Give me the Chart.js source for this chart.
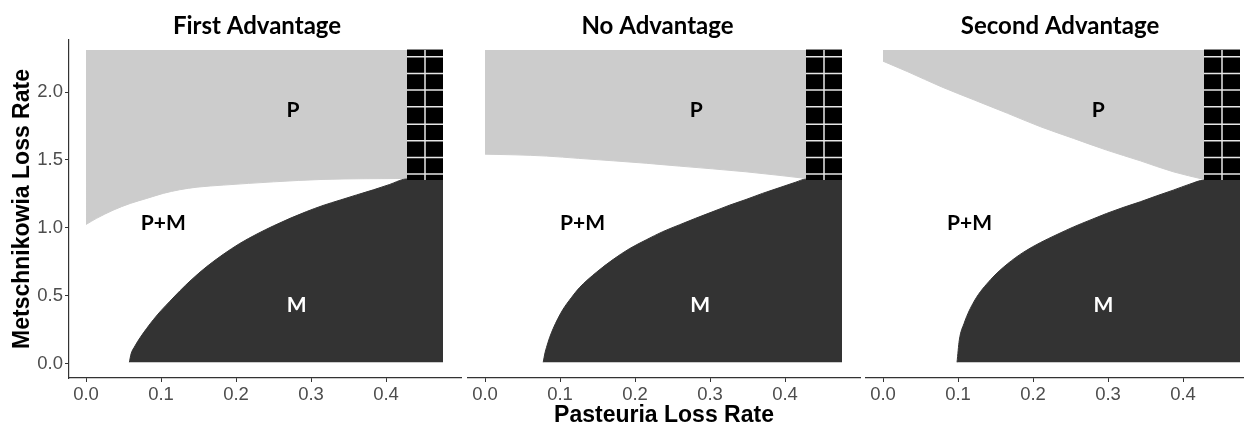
<!DOCTYPE html>
<html>
<head>
<meta charset="utf-8">
<script src="https://cdn.jsdelivr.net/npm/chart.js@4.4.1/dist/chart.umd.min.js"></script>
<style>
html, body { margin: 0; padding: 0; background: #ffffff; }
body { width: 1244px; height: 424px; overflow: hidden; position: relative; }
canvas { position: absolute; top: 0; }
</style>
</head>
<body>
<canvas id="p1" width="465" height="424" style="left:0px"></canvas>
<canvas id="p2" width="400" height="424" style="left:465px"></canvas>
<canvas id="p3" width="400" height="424" style="left:865px"></canvas>
<script>
// ---------------- DATA ----------------
const panelTitles = ['First Advantage', 'No Advantage', 'Second Advantage'];
const xAxisTitle = 'Pasteuria Loss Rate';
const yAxisTitle = 'Metschnikowia Loss Rate';
const xTickValues = [0, 0.1, 0.2, 0.3, 0.4];
const yTickValues = [0, 0.5, 1.0, 1.5, 2.0];

// extent of the simulated grid of loss rates
const gridXMax = 0.476;
const gridYMin = 0.01;
const gridYMax = 2.31;

// block where both go extinct (black, hatched)
const blockXMin = 0.428;
const blockYMin = 1.352;
const hatchX = [0.452];
const hatchY = [1.396, 1.519, 1.642, 1.764, 1.892, 2.015, 2.138, 2.261];

// region labels
const regionLabels = ['P', 'P+M', 'M'];
const labelY = [1.82, 0.985, 0.38];

// First Advantage: lower edge of "P" (light grey) region
const firstPEdgeX = [0, 0.014, 0.036, 0.059, 0.081, 0.103, 0.125, 0.148, 0.183, 0.250, 0.316, 0.428];
const firstPEdgeY = [1.025, 1.070, 1.130, 1.180, 1.217, 1.254, 1.281, 1.300, 1.315, 1.339, 1.357, 1.364];
// First Advantage: upper edge of "M" (dark) region
const firstMEdgeX = [0.0578, 0.060, 0.0653, 0.072, 0.081, 0.090, 0.100, 0.112, 0.125, 0.140, 0.161, 0.183, 0.205, 0.228, 0.250, 0.272, 0.294, 0.316, 0.339, 0.361, 0.383, 0.405, 0.423, 0.428, 0.476];
const firstMEdgeY = [0.010, 0.070, 0.130, 0.190, 0.260, 0.325, 0.390, 0.460, 0.535, 0.615, 0.715, 0.805, 0.885, 0.955, 1.015, 1.070, 1.120, 1.165, 1.205, 1.243, 1.280, 1.320, 1.357, 1.360, 1.360];
const firstLabelX = [0.276, 0.103, 0.281];

// No Advantage
const noPEdgeX = [0, 0.040, 0.082, 0.125, 0.171, 0.215, 0.259, 0.303, 0.348, 0.392, 0.428];
const noPEdgeY = [1.543, 1.538, 1.529, 1.512, 1.494, 1.476, 1.455, 1.435, 1.413, 1.387, 1.364];
const noMEdgeX = [0.0776, 0.080, 0.082, 0.086, 0.091, 0.097, 0.104, 0.115, 0.126, 0.149, 0.171, 0.193, 0.215, 0.237, 0.259, 0.281, 0.304, 0.326, 0.348, 0.370, 0.392, 0.414, 0.428, 0.476];
const noMEdgeY = [0.010, 0.080, 0.120, 0.190, 0.260, 0.330, 0.400, 0.485, 0.560, 0.675, 0.768, 0.848, 0.912, 0.972, 1.022, 1.071, 1.120, 1.167, 1.209, 1.254, 1.295, 1.336, 1.359, 1.359];
const noLabelX = [0.2815, 0.130, 0.287];

// Second Advantage
const secondPEdgeX = [0, 0.033, 0.0775, 0.1216, 0.166, 0.210, 0.254, 0.298, 0.343, 0.387, 0.428];
const secondPEdgeY = [2.228, 2.150, 2.040, 1.942, 1.844, 1.745, 1.659, 1.573, 1.494, 1.413, 1.357];
const secondMEdgeX = [0.0987, 0.1017, 0.108, 0.1216, 0.1437, 0.166, 0.188, 0.210, 0.232, 0.254, 0.276, 0.298, 0.320, 0.343, 0.365, 0.387, 0.409, 0.428, 0.476];
const secondMEdgeY = [0.010, 0.172, 0.295, 0.460, 0.620, 0.735, 0.823, 0.892, 0.951, 1.007, 1.057, 1.106, 1.150, 1.192, 1.236, 1.278, 1.322, 1.352, 1.355];
const secondLabelX = [0.287, 0.1154, 0.294];

// ---------------- STYLE ----------------
const COL_P = '#cccccc';
const COL_M = '#333333';
const COL_BLOCK = '#000000';
const COL_HATCH = '#e6e6e6';
const COL_AXIS = '#333333';
const COL_TICKTXT = '#4d4d4d';
const TICK_FONT = { family: '"Liberation Sans", Arial, sans-serif', size: 18.5 };
const AXTITLE_FONT = { family: '"Liberation Sans", Arial, sans-serif', size: 23, weight: 'bold', lineHeight: 0.75 };
const LABEL_FONT = 'bold 21px Lato, "Open Sans", sans-serif';
const TITLE_FONT = 'bold 24px Lato, "Open Sans", sans-serif';

function pts(xs, ys) { return xs.map((x, i) => ({ x: x, y: ys[i] })); }

function hatchPoints() {
  const p = [];
  hatchY.forEach(y => { p.push({ x: blockXMin, y: y }, { x: gridXMax, y: y }, { x: gridXMax, y: null }); });
  hatchX.forEach(x => { p.push({ x: x, y: blockYMin }, { x: x, y: gridYMax }, { x: x, y: null }); });
  return p;
}

const textPlugin = {
  id: 'panelText',
  afterDraw(chart) {
    const o = chart.options.plugins.panelText;
    const ctx = chart.ctx;
    const xs = chart.scales.x, ys = chart.scales.y;
    ctx.save();
    ctx.textAlign = 'center';
    ctx.textBaseline = 'alphabetic';
    ctx.fillStyle = '#000000';
    ctx.font = TITLE_FONT;
    ctx.fillText(o.title, xs.getPixelForValue(o.titleX), 33.5);
    ctx.font = LABEL_FONT;
    regionLabels.forEach((t, i) => {
      ctx.fillStyle = t === 'M' ? '#ffffff' : '#000000';
      ctx.fillText(t, xs.getPixelForValue(o.labelX[i]), ys.getPixelForValue(labelY[i]));
    });
    ctx.restore();
  }
};

function makePanel(id, idx, pX, pY, mX, mY, labX, showY, showXTitle, padL, padR, titleX) {
  const datasets = [
    { // hatch lines
      data: hatchPoints(), borderColor: COL_HATCH, borderWidth: 1.5, fill: false, order: 0
    },
    { // both-extinct block
      data: [{ x: blockXMin, y: gridYMax }, { x: gridXMax, y: gridYMax }],
      borderColor: COL_BLOCK, borderWidth: 1, backgroundColor: COL_BLOCK, fill: { value: blockYMin }, order: 1
    },
    { // M only region
      data: pts(mX, mY), borderColor: COL_M, borderWidth: 1, backgroundColor: COL_M, fill: { value: gridYMin }, order: 2,
      cubicInterpolationMode: 'monotone'
    },
    { // P only region
      data: pts(pX, pY), borderColor: COL_P, borderWidth: 1, backgroundColor: COL_P, fill: { value: gridYMax }, order: 3,
      cubicInterpolationMode: 'monotone'
    }
  ];
  datasets.forEach(d => { d.pointRadius = 0; d.spanGaps = false; });

  return new Chart(document.getElementById(id), {
    type: 'line',
    data: { datasets: datasets },
    plugins: [textPlugin],
    options: {
      responsive: false,
      animation: false,
      events: [],
      layout: { padding: { top: 40, left: padL, right: padR, bottom: 0 } },
      plugins: {
        legend: { display: false },
        tooltip: { enabled: false },
        panelText: { title: panelTitles[idx], labelX: labX, titleX: titleX }
      },
      scales: {
        x: {
          type: 'linear', min: -0.0227, max: 0.5,
          afterBuildTicks: s => { s.ticks = xTickValues.map(v => ({ value: v })); },
          afterFit: s => { s.height = 46; },
          ticks: { font: TICK_FONT, color: COL_TICKTXT, padding: 2, maxRotation: 0, autoSkip: false,
                   callback: v => Number(v).toFixed(1) },
          grid: { drawOnChartArea: false, drawTicks: true, tickLength: 4, color: COL_AXIS, lineWidth: 1 },
          border: { display: true, color: COL_AXIS, width: 1.2 },
          title: { display: showXTitle, text: xAxisTitle, font: AXTITLE_FONT, color: '#000000', padding: { top: 0, bottom: 0 } }
        },
        y: {
          type: 'linear', min: -0.106, max: 2.384, display: showY,
          afterBuildTicks: s => { s.ticks = yTickValues.map(v => ({ value: v })); },
          afterFit: s => { if (showY) s.width = 69; },
          ticks: { font: TICK_FONT, color: COL_TICKTXT, padding: 2, autoSkip: false,
                   callback: v => Number(v).toFixed(1) },
          grid: { drawOnChartArea: false, drawTicks: true, tickLength: 4, color: COL_AXIS, lineWidth: 1 },
          border: { display: true, color: COL_AXIS, width: 1.2 },
          title: { display: showY, text: yAxisTitle, font: { family: AXTITLE_FONT.family, size: 23, weight: 'bold', lineHeight: 1 },
                   color: '#000000', padding: { top: 11.5, bottom: 0 } }
        }
      }
    }
  });
}

makePanel('p1', 0, firstPEdgeX, firstPEdgeY, firstMEdgeX, firstMEdgeY, firstLabelX, true, false, 0, 4, 0.228);
makePanel('p2', 1, noPEdgeX, noPEdgeY, noMEdgeX, noMEdgeY, noLabelX, false, true, 3, 5, 0.230);
makePanel('p3', 2, secondPEdgeX, secondPEdgeY, secondMEdgeX, secondMEdgeY, secondLabelX, false, false, 1, 7, 0.236);
</script>
</body>
</html>
